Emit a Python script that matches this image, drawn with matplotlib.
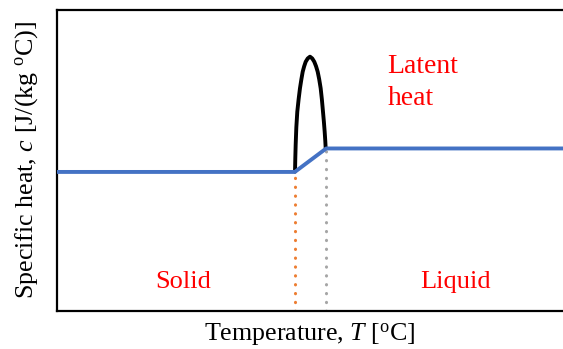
import matplotlib.pyplot as plt

plt.rcParams['font.family'] = ['Liberation Serif', 'DejaVu Serif']
plt.rcParams['mathtext.fontset'] = 'custom'
plt.rcParams['mathtext.rm'] = 'Liberation Serif'
plt.rcParams['mathtext.it'] = 'Liberation Serif:italic'

# Temperature axis in arbitrary units (0-100), specific heat likewise
T_solidus = 47.0
T_liquidus = 53.2
c_solid = 46.2
c_liquid = 54.0

# baseline specific heat (solid -> mushy ramp -> liquid)
base_T = [0, T_solidus, T_liquidus, 100]
base_c = [c_solid, c_solid, c_liquid, c_liquid]

# apparent specific heat peak across the phase change
peak_T = [47.04, 47.1, 47.17, 47.3, 47.49, 47.75, 48.02, 48.3, 48.56, 48.85, 49.15,
          49.55, 50.0, 50.45, 50.85, 51.2, 51.52, 51.82, 52.11, 52.35, 52.57,
          52.75, 52.9, 53.02, 53.1]
peak_c = [46.3, 51.0, 55.2, 61.0, 66.2, 70.3, 74.0, 77.0, 79.5, 81.3, 82.8,
          83.9, 84.5, 83.9, 82.8, 81.3, 79.5, 77.0, 74.0, 70.3, 66.2,
          62.8, 59.6, 56.6, 54.1]

fig = plt.figure(figsize=(5.63, 3.49), dpi=100)
ax = fig.add_axes([0.1012, 0.1089, 0.8988, 0.8624])

ax.plot(peak_T, peak_c, color='black', lw=2.8, solid_joinstyle='round',
        solid_capstyle='round', zorder=3)
ax.plot(base_T, base_c, color='#4472C4', lw=2.8, solid_joinstyle='round', zorder=4)

# dotted markers for solidus / liquidus temperatures
ax.plot([T_solidus, T_solidus], [0, c_solid], color='#ED7D31', lw=2.2,
        linestyle=(0, (0.1, 2.8)), dash_capstyle='round', zorder=2)
ax.plot([T_liquidus, T_liquidus], [0, c_liquid], color='#A5A5A5', lw=2.2,
        linestyle=(0, (0.1, 2.8)), dash_capstyle='round', zorder=2)

ax.text(65.3, 79.1, 'Latent', color='#FF0000', fontsize=20, ha='left', va='baseline')
ax.text(65.3, 68.4, 'heat', color='#FF0000', fontsize=20, ha='left', va='baseline')
ax.text(25.0, 7.6, 'Solid', color='#FF0000', fontsize=19, ha='center', va='baseline')
ax.text(78.8, 7.6, 'Liquid', color='#FF0000', fontsize=19, ha='center', va='baseline')

ax.set_xlim(0, 100)
ax.set_ylim(0, 100)
ax.set_xticks([])
ax.set_yticks([])
ax.spines['right'].set_visible(False)
for side in ['left', 'top', 'bottom']:
    ax.spines[side].set_linewidth(1.6)

ax.set_xlabel(r'Temperature, $\mathit{T}$ [$^{\rm o}$C]', fontsize=18.7, labelpad=7)
ax.set_ylabel(r'Specific heat, $\mathit{c}$ [J/(kg $^{\rm o}$C)]', fontsize=18.7, labelpad=12)

fig.savefig('out.png', dpi=100)
